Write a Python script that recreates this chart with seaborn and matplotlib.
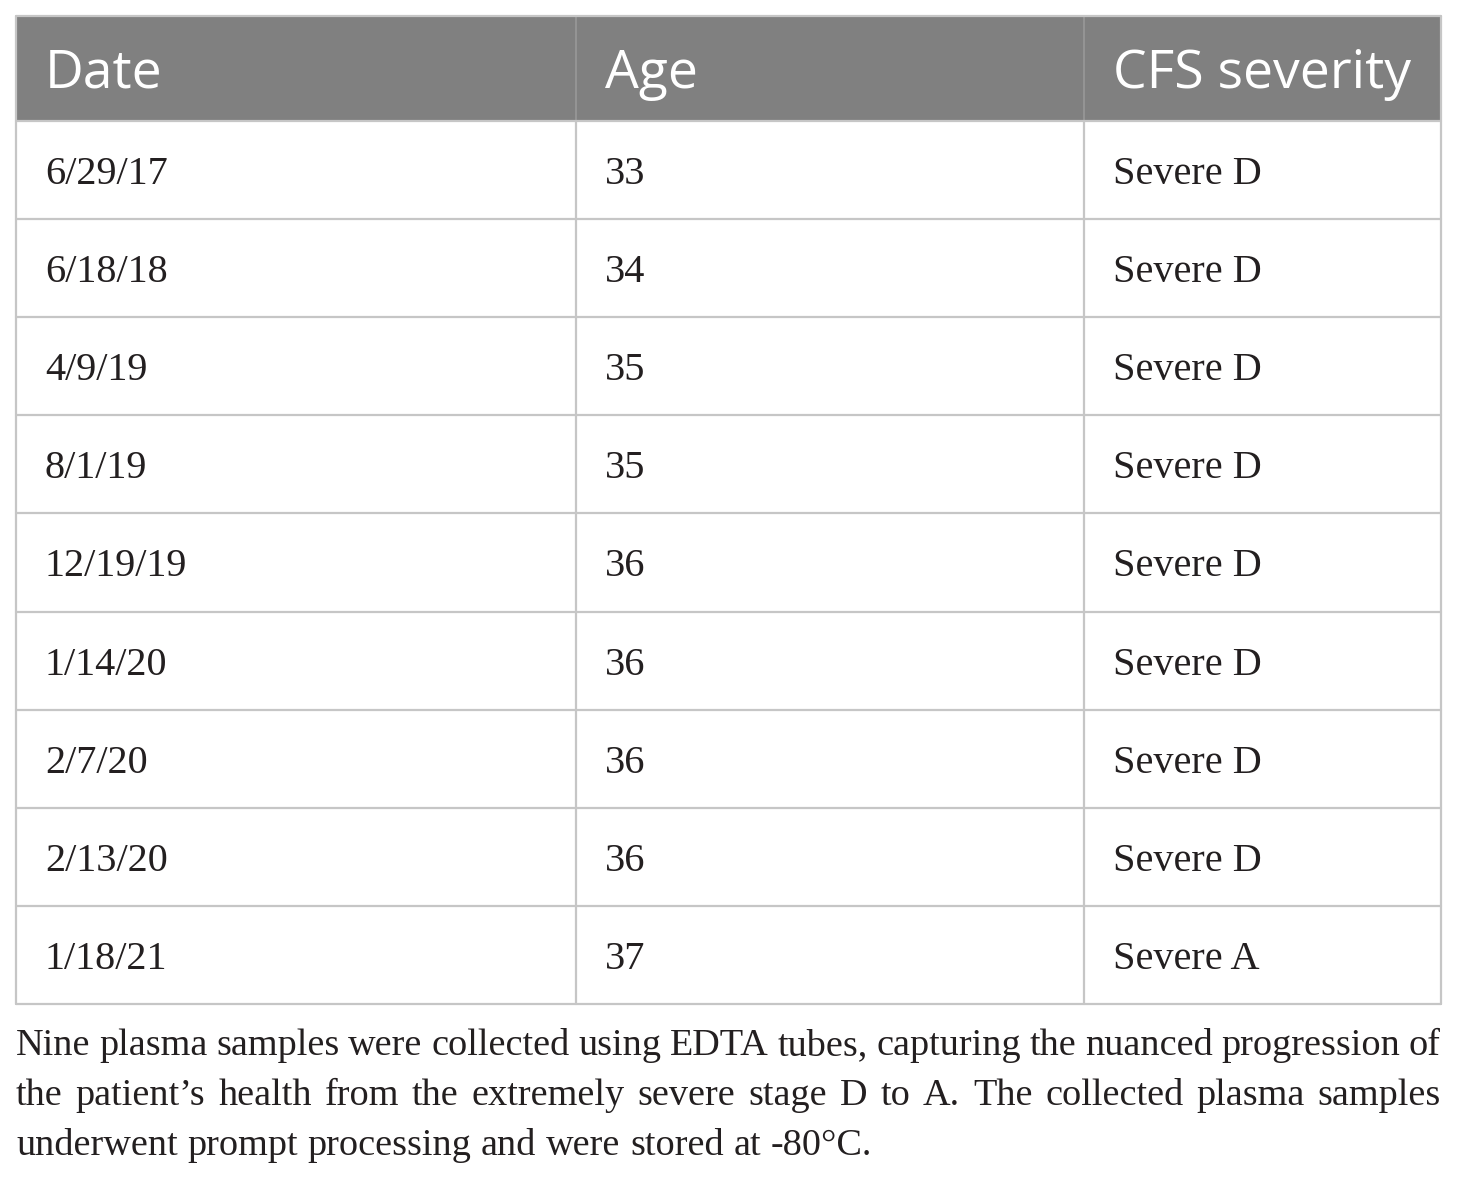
import matplotlib
matplotlib.use("Agg")
import matplotlib.pyplot as plt
from matplotlib.patches import Rectangle
import seaborn as sns

# ---- data ----
headers = ["Date", "Age", "CFS severity"]
dates = ["6/29/17", "6/18/18", "4/9/19", "8/1/19", "12/19/19", "1/14/20", "2/7/20", "2/13/20", "1/18/21"]
ages = [33, 34, 35, 35, 36, 36, 36, 36, 37]
severity = ["Severe D", "Severe D", "Severe D", "Severe D", "Severe D", "Severe D", "Severe D", "Severe D", "Severe A"]
caption_lines = [
    "Nine plasma samples were collected using EDTA tubes, capturing the nuanced progression of",
    "the patient\u2019s health from the extremely severe stage D to A. The collected plasma samples",
    "underwent prompt processing and were stored at -80\u00b0C.",
]

sns.set_style("white")

W, H = 1460, 1181
fig = plt.figure(figsize=(W / 100, H / 100), dpi=100)
ax = fig.add_axes([0, 0, 1, 1])
ax.set_xlim(0, W)
ax.set_ylim(H, 0)
ax.axis("off")

# layout
col_edges = [16, 576, 1084, 1441]
top, head_bot, body_bot = 16, 121, 1004
n = len(dates)
row_h = (body_bot - head_bot) / n
pad = 29
border = "#c6c6c6"
head_col = "#808080"
text_col = "#231f20"

# header
ax.add_patch(Rectangle((col_edges[0], top), col_edges[-1] - col_edges[0], head_bot - top,
                       facecolor=head_col, edgecolor="none", zorder=1))
for j, h in enumerate(headers):
    ax.text(col_edges[j] + pad, 88, h, color="white", fontsize=38.5,
            family="Open Sans", ha="left", va="baseline", zorder=3)
for x in col_edges[1:-1]:
    ax.plot([x, x], [top, head_bot], color="#999999", lw=1.2, zorder=2)

# body
cols = [dates, [str(a) for a in ages], severity]
for i in range(n):
    y0 = head_bot + i * row_h
    yc = y0 + row_h / 2
    for j, colvals in enumerate(cols):
        ax.text(col_edges[j] + pad, yc + 14, colvals[i], color=text_col,
                fontsize=29, family="Liberation Serif", ha="left", va="baseline", zorder=3)

# grid lines
lw = 1.6
for i in range(1, n + 1):
    y = head_bot + i * row_h
    ax.plot([col_edges[0], col_edges[-1]], [y, y], color=border, lw=lw, zorder=2)
ax.plot([col_edges[0], col_edges[-1]], [head_bot, head_bot], color=border, lw=lw, zorder=2)
ax.plot([col_edges[0], col_edges[-1]], [top, top], color=border, lw=lw, zorder=2)
for x in col_edges[1:-1]:
    ax.plot([x, x], [head_bot, body_bot], color=border, lw=lw, zorder=2)
for x in [col_edges[0], col_edges[-1]]:
    ax.plot([x, x], [top, body_bot], color=border, lw=lw, zorder=2)

# caption (justified)
fig.canvas.draw()
renderer = fig.canvas.get_renderer()
cap_size = 27.5
baselines = [1055, 1105, 1155]
left, right = col_edges[0], col_edges[-1]
for li, line in enumerate(caption_lines):
    words = line.split(" ")
    texts = [ax.text(0, baselines[li], w, fontsize=cap_size, family="Liberation Serif",
                     color=text_col, ha="left", va="baseline") for w in words]
    widths = [t.get_window_extent(renderer).width for t in texts]
    if li < len(caption_lines) - 1:
        gap = (right - left - sum(widths)) / (len(words) - 1)
    else:
        sp = ax.text(0, 0, "a a", fontsize=cap_size, family="Liberation Serif")
        sa = ax.text(0, 0, "aa", fontsize=cap_size, family="Liberation Serif")
        gap = sp.get_window_extent(renderer).width - sa.get_window_extent(renderer).width
        sp.remove(); sa.remove()
    x = left
    for t, w in zip(texts, widths):
        t.set_x(x)
        x += w + gap

fig.savefig("out.png", dpi=100, facecolor="white")
